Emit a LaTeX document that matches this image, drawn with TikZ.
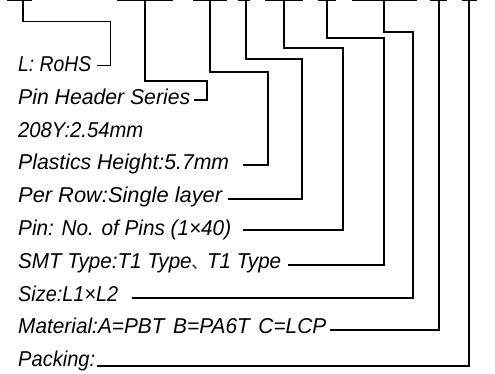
\documentclass[tikz,border=0pt]{standalone}
\usepackage{graphicx}
\usepackage{fontspec}
\setmainfont{Liberation Sans}
\newfontfamily\cjkfont{Noto Sans CJK SC}
\newcommand{\fitw}[2]{\resizebox{#1}{\height}{#2}}
\begin{document}
\begin{tikzpicture}[x=1pt,y=-1pt,
  lbl/.style={anchor=base west,inner sep=0pt,font=\fontsize{21.5}{24}\selectfont\itshape},
  conn/.style={line width=1.3pt,line join=miter},
  topbar/.style={line width=1.6pt}]
\useasboundingbox (0,0) rectangle (495,374);
% labels
\node[lbl] (n1) at (18,72) {\fitw{73pt}{L: RoHS}};
\node[lbl] (n2) at (18,105) {\fitw{172pt}{Pin Header Series}};
\node[lbl] (n3) at (18,138) {\fitw{125pt}{208Y:2.54mm}};
\node[lbl] (n4) at (18,170) {\fitw{211pt}{Plastics Height:5.7mm}};
\node[lbl] (n5) at (18,203) {\fitw{204pt}{Per Row:Single layer}};
\node[lbl] (n6) at (18,235) {\fitw{213pt}{Pin: No. of Pins (1×40)}};
\node[lbl] (n7) at (18,268) {\fitw{263pt}{SMT Type:T1 Type{\cjkfont\fontsize{16}{18}\selectfont 、}T1 Type}};
\node[lbl] (n8) at (18,301) {\fitw{100pt}{Size:L1×L2}};
\node[lbl] (n9) at (18,333) {\fitw{308pt}{Material:A=PBT\hspace{9pt}B=PA6T\hspace{9pt}C=LCP}};
\node[lbl] (n10) at (18,366) {\fitw{77pt}{Packing:}};
% top points
\coordinate (t1) at (23,0);
\coordinate (t2) at (145,0);
\coordinate (t3) at (210,0);
\coordinate (t4) at (246,0);
\coordinate (t5) at (284,0);
\coordinate (t6) at (327,0);
\coordinate (t7) at (384,0);
\coordinate (t8) at (439,0);
\coordinate (t9) at (469,0);
% line ends near text
\coordinate (e1) at (97,65.7);
\coordinate (e2) at (194,100);
\coordinate (e4) at (243,165);
\coordinate (e5) at (228,199);
\coordinate (e6) at (243,230);
\coordinate (e7) at (288,265);
\coordinate (e8) at (132,298);
\coordinate (e9) at (330,330);
\coordinate (e10) at (97,366);
% top bars
\draw[topbar] (7,0) -- (32,0);
\draw[topbar] (117,0) -- (173,0);
\draw[topbar] (193,0) -- (227,0);
\draw[topbar] (238,0) -- (250,0);
\draw[topbar] (265,0) -- (303,0);
\draw[topbar] (318,0) -- (336,0);
\draw[topbar] (352,0) -- (417,0);
\draw[topbar] (430,0) -- (447,0);
\draw[topbar] (462,0) -- (477,0);
% connectors
\draw[conn] (t1) -- (23,21.7) -- (110.7,21.7) |- (e1);
\draw[conn] (t2) -- (145,81) -- (207,81) |- (e2);
\draw[conn] (t3) -- (210,72) -- (268,72) |- (e4);
\draw[conn] (t4) -- (246,59) -- (302,59) |- (e5);
\draw[conn] (t5) -- (284,48) -- (343,48) |- (e6);
\draw[conn] (t6) -- (327,38) -- (384,38) |- (e7);
\draw[conn] (t7) -- (384,32) -- (413,32) |- (e8);
\draw[conn] (t8) |- (e9);
\draw[conn] (t9) |- (e10);
\end{tikzpicture}
\end{document}
